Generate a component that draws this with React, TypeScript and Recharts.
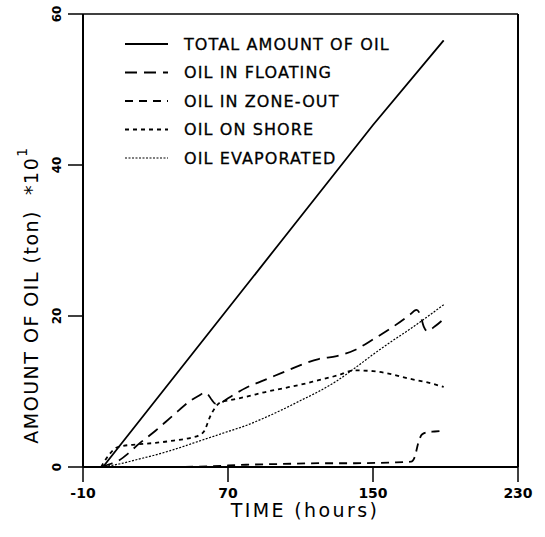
import React from "react";
import { LineChart, Line, XAxis, YAxis, ReferenceLine, Legend } from "recharts";

// ---- data (time in hours, amount in ton *10^1) ----
const xTicks = [-10, 70, 150, 230];
const yTicks = [0, 20, 40, 60];

const totalT = [1, 50, 100, 150, 189];
const totalV = [0, 14.9, 30.1, 45.3, 56.5];

const floatT = [0, 5, 10, 15, 20, 30, 40, 50, 55, 57, 59, 61, 63, 66, 70, 80, 90, 100, 110, 120, 130, 140, 150, 160, 170, 174, 176, 178, 180, 184, 189];
const floatV = [0, 0.4, 0.9, 1.8, 2.9, 4.8, 6.9, 8.9, 9.6, 9.9, 9.6, 8.9, 8.4, 8.5, 9.1, 10.5, 11.5, 12.5, 13.5, 14.3, 14.7, 15.5, 16.9, 18.4, 20.1, 20.8, 20.2, 18.6, 18.0, 18.6, 19.6];

const zoneT = [0, 40, 60, 80, 100, 120, 140, 160, 171, 173, 175, 177, 180, 184, 189];
const zoneV = [0, 0, 0.1, 0.3, 0.4, 0.5, 0.5, 0.6, 0.7, 1.3, 3.2, 4.3, 4.6, 4.7, 4.8];

const shoreT = [0, 4, 8, 10, 20, 30, 40, 50, 54, 57, 60, 63, 66, 70, 80, 90, 100, 110, 120, 130, 140, 150, 160, 170, 180, 189];
const shoreV = [0, 1.5, 2.5, 2.7, 3.0, 3.2, 3.5, 3.9, 4.2, 4.8, 6.6, 7.9, 8.6, 8.8, 9.3, 9.9, 10.4, 10.9, 11.5, 12.1, 12.8, 12.7, 12.3, 11.7, 11.2, 10.6];

const evapT = [0, 10, 20, 30, 40, 50, 60, 70, 80, 90, 100, 110, 120, 130, 140, 150, 160, 170, 180, 189];
const evapV = [0, 0.4, 1.0, 1.6, 2.3, 3.1, 3.9, 4.7, 5.5, 6.5, 7.6, 8.8, 10.0, 11.4, 13.1, 14.9, 16.6, 18.2, 19.9, 21.5];

const seriesNames = [
  "TOTAL AMOUNT OF OIL",
  "OIL IN FLOATING",
  "OIL IN ZONE-OUT",
  "OIL ON SHORE",
  "OIL EVAPORATED",
];

const zip = (ts: number[], vs: number[]) => ts.map((t, i) => ({ t, v: vs[i] }));

const totalData = zip(totalT, totalV);
const floatData = zip(floatT, floatV);
const zoneData = zip(zoneT, zoneV);
const shoreData = zip(shoreT, shoreV);
const evapData = zip(evapT, evapV);

const FONT = "'DejaVu Sans', 'Liberation Sans', sans-serif";

const styles = [
  { dash: undefined as string | undefined, w: 1.8 },
  { dash: "12 7", w: 1.8 },
  { dash: "8 6", w: 1.8 },
  { dash: "4 4", w: 1.8 },
  { dash: "2 1.5", w: 1.2 },
];

const XTick = (props: any) => {
  const { x, payload } = props;
  return (
    <text x={x} y={493} textAnchor="middle" dominantBaseline="central" fontFamily={FONT} fontWeight="bold" fontSize={14} fill="#000">
      {payload.value}
    </text>
  );
};

const YTick = (props: any) => {
  const { y, payload } = props;
  const cx = 57;
  return (
    <text x={cx} y={y} transform={`rotate(-90 ${cx} ${y})`} textAnchor="middle" dominantBaseline="central" fontFamily={FONT} fontWeight="bold" fontSize={12} fill="#000">
      {payload.value}
    </text>
  );
};

const XLabel = () => (
  <text x={305} y={510} textAnchor="middle" dominantBaseline="central" fontFamily={FONT} fontSize={19} letterSpacing={2.4} fill="#000">
    TIME (hours)
  </text>
);

const YLabel = () => {
  const cx = 31;
  const cy = 295;
  return (
    <text x={cx} y={cy} transform={`rotate(-90 ${cx} ${cy})`} textAnchor="middle" dominantBaseline="central" fontFamily={FONT} fontSize={19} letterSpacing={1.5} fill="#000" style={{ whiteSpace: "pre" }}>
      {"AMOUNT OF OIL (ton)  *10"}
      <tspan dy={-9} fontSize={14}>1</tspan>
    </text>
  );
};

const rowsY = [44, 72.5, 101, 129.5, 158];

const renderLegend = () => (
  <svg width={545} height={180} style={{ display: "block" }}>
    {seriesNames.map((n, i) => (
      <g key={n}>
        <line x1={125} x2={168} y1={rowsY[i]} y2={rowsY[i]} stroke="#000" strokeWidth={styles[i].w} strokeDasharray={styles[i].dash} />
        <text x={184} y={rowsY[i]} dominantBaseline="central" fontFamily={FONT} fontSize={16} letterSpacing={1.1} fill="#000" stroke="#000" strokeWidth={0.3}>
          {n}
        </text>
      </g>
    ))}
  </svg>
);

export default function App() {
  return (
    <div style={{ position: "absolute", left: 0, top: 0, background: "#fff" }}>
      <LineChart width={545} height={537} margin={{ top: 14, right: 27, left: 0, bottom: 0 }}>
        <XAxis
          type="number"
          dataKey="t"
          domain={[-10, 230]}
          ticks={xTicks}
          tickSize={15}
          height={70}
          allowDuplicatedCategory={false}
          axisLine={{ stroke: "#000", strokeWidth: 2 }}
          tickLine={{ stroke: "#000", strokeWidth: 1.5 }}
          tick={<XTick />}
          label={<XLabel />}
        />
        <YAxis
          type="number"
          dataKey="v"
          domain={[0, 60]}
          ticks={yTicks}
          tickSize={15}
          width={83}
          axisLine={{ stroke: "#000", strokeWidth: 2 }}
          tickLine={{ stroke: "#000", strokeWidth: 1.5 }}
          tick={<YTick />}
          label={<YLabel />}
        />
        <ReferenceLine y={60} stroke="#000" strokeWidth={1.5} />
        <ReferenceLine x={230} stroke="#000" strokeWidth={2} />
        <Legend
          layout="horizontal"
          verticalAlign="middle"
          align="center"
          content={renderLegend}
          wrapperStyle={{ position: "absolute", left: 0, top: 0, width: 545, height: 180 }}
        />
        <Line data={totalData} dataKey="v" name={seriesNames[0]} type="linear" stroke="#000" strokeWidth={styles[0].w} dot={false} isAnimationActive={false} />
        <Line data={floatData} dataKey="v" name={seriesNames[1]} type="monotone" stroke="#000" strokeWidth={styles[1].w} strokeDasharray={styles[1].dash} dot={false} isAnimationActive={false} />
        <Line data={zoneData} dataKey="v" name={seriesNames[2]} type="monotone" stroke="#000" strokeWidth={styles[2].w} strokeDasharray={styles[2].dash} dot={false} isAnimationActive={false} />
        <Line data={shoreData} dataKey="v" name={seriesNames[3]} type="monotone" stroke="#000" strokeWidth={styles[3].w} strokeDasharray={styles[3].dash} dot={false} isAnimationActive={false} />
        <Line data={evapData} dataKey="v" name={seriesNames[4]} type="monotone" stroke="#000" strokeWidth={styles[4].w} strokeDasharray={styles[4].dash} dot={false} isAnimationActive={false} />
      </LineChart>
    </div>
  );
}
